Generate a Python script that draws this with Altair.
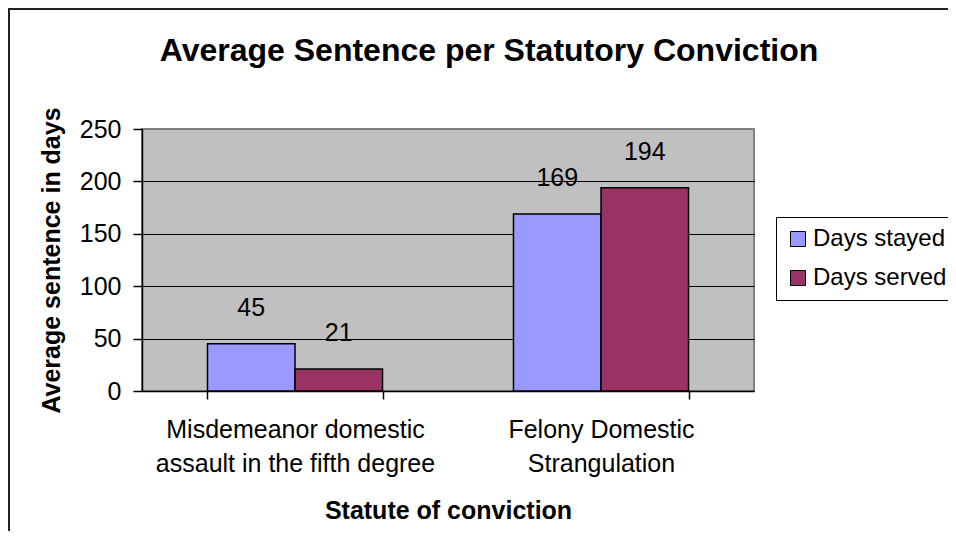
import altair as alt
import pandas as pd

categories = ["Misdemeanor domestic|assault in the fifth degree", "Felony Domestic|Strangulation"]
series = ["Days stayed", "Days served"]
days_stayed = [45, 169]
days_served = [21, 194]
colors = ["#9999FF", "#993366"]
y_ticks = [0, 50, 100, 150, 200, 250]

rows = []
for i, c in enumerate(categories):
    rows.append({"statute": c, "series": series[0], "days": days_stayed[i]})
    rows.append({"statute": c, "series": series[1], "days": days_served[i]})
df = pd.DataFrame(rows)

FONT = "Liberation Sans"

x_enc = alt.X(
    "statute:N", sort=categories, title="Statute of conviction",
    scale=alt.Scale(paddingInner=0.428, paddingOuter=0.214),
    axis=alt.Axis(
        labelExpr="split(datum.label, '|')", labelAngle=0, tickBand="extent",
        labelFont=FONT, labelFontSize=25, labelColor="black", labelLineHeight=34,
        labelPadding=18, labelLimit=500, tickSize=8, tickColor="black", tickWidth=1.5,
        domainColor="black", domainWidth=1.5,
        titleFont=FONT, titleFontSize=25, titleFontWeight="bold", titleColor="black",
        titlePadding=22,
    ),
)
xoff = alt.XOffset("series:N", sort=series, scale=alt.Scale(paddingInner=0, paddingOuter=0))
y_enc = alt.Y(
    "days:Q", title="Average sentence in days",
    scale=alt.Scale(domain=[0, 250], nice=False),
    axis=alt.Axis(
        values=y_ticks, grid=True, gridColor="black", gridWidth=1,
        gridOpacity={"condition": {"test": "datum.value === 250", "value": 0}, "value": 1},
        labelFont=FONT, labelFontSize=25, labelColor="black", labelPadding=12,
        tickSize=9, tickColor="black", tickWidth=1.5, domainColor="black", domainWidth=1.5,
        titleFont=FONT, titleFontSize=25, titleFontWeight="bold", titleColor="black",
        titlePadding=15,
    ),
)
color = alt.Color(
    "series:N", sort=series,
    scale=alt.Scale(domain=series, range=colors),
    legend=alt.Legend(
        title=None, orient="none", legendX=634, legendY=88,
        strokeColor="black", fillColor="white", padding=10, cornerRadius=0,
        symbolType="square", symbolSize=225, symbolStrokeColor="black", symbolStrokeWidth=1,
        labelFont=FONT, labelFontSize=24, labelColor="black", labelOffset=3,
        labelLimit=400, rowPadding=15,
    ),
)

bars = alt.Chart(df).mark_bar(stroke="black", strokeWidth=1.5).encode(
    x=x_enc, xOffset=xoff, y=y_enc, color=color
)
labels = alt.Chart(df).mark_text(
    font=FONT, fontSize=25, baseline="alphabetic", dy=-28, color="black"
).encode(x=x_enc, xOffset=xoff, y=y_enc, text="days:Q")
frame = alt.Chart(alt.Data(values=[{}])).mark_rect(
    fillOpacity=0, stroke="#222222", strokeWidth=2
).encode(x=alt.value(-133), x2=alt.value(900), y=alt.value(-120), y2=alt.value(700))

chart = alt.layer(frame, bars, labels).properties(
    width=612, height=262,
    title=alt.TitleParams(
        "Average Sentence per Statutory Conviction", font=FONT, fontSize=32,
        fontWeight="bold", color="black", anchor="middle", dx=41, dy=85, offset=0,
        baseline="alphabetic",
    ),
    autosize=alt.AutoSizeParams(type="none"),
    padding={"left": 134, "top": 121, "right": 194, "bottom": 140},
    background="white",
).configure_view(
    fill="#C0C0C0", stroke="#808080", strokeWidth=2
)

chart.save("out.html", embed_options={"renderer": "svg", "actions": False})
